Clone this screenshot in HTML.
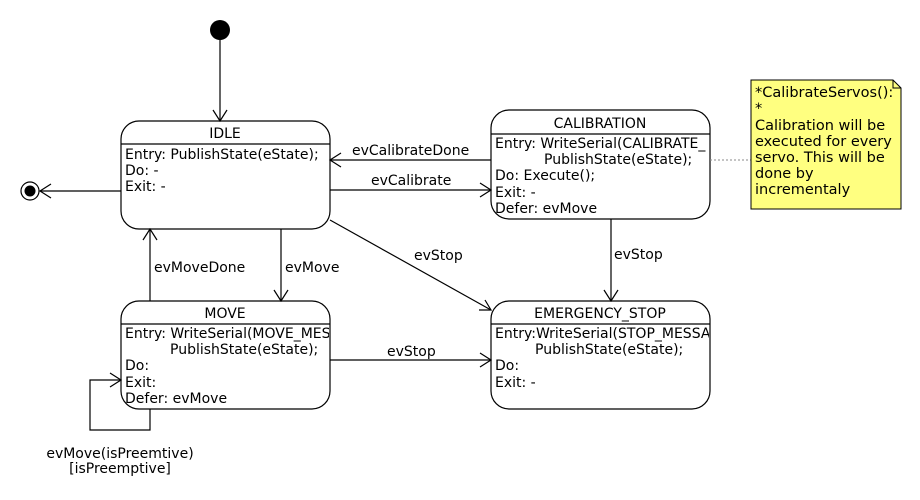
<!DOCTYPE html>
<html><head><meta charset="utf-8"><style>
body{margin:0;background:#fff}
svg{display:block}
text{font-family:"DejaVu Sans","Liberation Sans",sans-serif;font-size:14px;fill:#000}
.n{font-size:14.5px}
</style></head><body>
<svg width="920" height="500" viewBox="0 0 920 500" xmlns="http://www.w3.org/2000/svg">
<defs>
<clipPath id="c1"><rect x="491" y="110" width="218" height="110"/></clipPath>
<clipPath id="c2"><rect x="121" y="300" width="208" height="110"/></clipPath>
<clipPath id="c3"><rect x="491" y="300" width="218" height="110"/></clipPath>
</defs>
<g fill="none" stroke="#000" stroke-width="1.2">
<line x1="220" y1="30" x2="220" y2="121"/>
<polyline points="213,110 220,121 227,110"/>
<line x1="121" y1="191" x2="40" y2="191"/>
<polyline points="51,184 40,191 51,198"/>
<circle cx="30" cy="191" r="9"/>
<rect x="121" y="121" width="209" height="108" rx="18"/>
<line x1="121" y1="144" x2="330" y2="144"/>
<rect x="491" y="110" width="219" height="109" rx="18"/>
<line x1="491" y1="134" x2="710" y2="134"/>
<rect x="121" y="301" width="209" height="108" rx="18"/>
<line x1="121" y1="324" x2="330" y2="324"/>
<rect x="491" y="301" width="219" height="108" rx="18"/>
<line x1="491" y1="324" x2="710" y2="324"/>
<line x1="491" y1="160" x2="330" y2="160"/>
<polyline points="341,153 330,160 341,167"/>
<line x1="330" y1="190" x2="491" y2="190"/>
<polyline points="480,183 491,190 480,197"/>
<line x1="330" y1="220" x2="491" y2="310"/>
<polyline points="479,310 491,310 485,300"/>
<line x1="611" y1="219" x2="611" y2="301"/>
<polyline points="604,290 611,301 618,290"/>
<line x1="281" y1="229" x2="281" y2="301"/>
<polyline points="274,290 281,301 288,290"/>
<line x1="150" y1="301" x2="150" y2="229"/>
<polyline points="143,240 150,229 157,240"/>
<line x1="330" y1="360" x2="491" y2="360"/>
<polyline points="480,353 491,360 480,367"/>
<polyline points="150,409 150,430 90,430 90,380 121,380"/>
<polyline points="110,373 121,380 110,387"/>
<line x1="710" y1="160" x2="751" y2="160" stroke="#888" stroke-width="1" stroke-dasharray="2,2"/>
</g>
<path d="M751,80 H893 L901,88 V209 H751 Z" fill="#ffff80" stroke="#000" stroke-width="1"/>
<path d="M893,80 V88 H901" fill="none" stroke="#000" stroke-width="1"/>
<circle cx="220" cy="30" r="10" fill="#000"/>
<circle cx="30" cy="191" r="5.5" fill="#000"/>

<text x="225" y="138" text-anchor="middle">IDLE</text>
<text x="125" y="159">Entry: PublishState(eState);</text>
<text x="125" y="175">Do: -</text>
<text x="125" y="191">Exit: -</text>

<text x="600" y="128" text-anchor="middle">CALIBRATION</text>
<g clip-path="url(#c1)">
<text x="495" y="148">Entry: WriteSerial(CALIBRATE_</text>
<text x="544" y="164">PublishState(eState);</text>
<text x="495" y="180">Do: Execute();</text>
<text x="495" y="197">Exit: -</text>
<text x="495" y="213">Defer: evMove</text>
</g>

<text x="225" y="318" text-anchor="middle">MOVE</text>
<g clip-path="url(#c2)">
<text x="125" y="338">Entry: WriteSerial(MOVE_MESS</text>
<text x="170" y="354">PublishState(eState);</text>
<text x="125" y="370">Do:</text>
<text x="125" y="387">Exit:</text>
<text x="125" y="403">Defer: evMove</text>
</g>

<text x="600" y="318" text-anchor="middle">EMERGENCY_STOP</text>
<g clip-path="url(#c3)">
<text x="495" y="338">Entry:WriteSerial(STOP_MESSAGE</text>
<text x="535" y="354">PublishState(eState);</text>
<text x="495" y="370">Do:</text>
<text x="495" y="387">Exit: -</text>
</g>

<text x="352" y="155">evCalibrateDone</text>
<text x="371" y="185">evCalibrate</text>
<text x="414" y="260">evStop</text>
<text x="614" y="259">evStop</text>
<text x="285" y="272">evMove</text>
<text x="154" y="272">evMoveDone</text>
<text x="387" y="356">evStop</text>
<text x="120" y="458" text-anchor="middle">evMove(isPreemtive)</text>
<text x="120" y="473" text-anchor="middle">[isPreemptive]</text>

<text class="n" x="755" y="97">*CalibrateServos():</text>
<text class="n" x="755" y="113">*</text>
<text class="n" x="755" y="130">Calibration will be</text>
<text class="n" x="755" y="146">executed for every</text>
<text class="n" x="755" y="162">servo. This will be</text>
<text class="n" x="755" y="178">done by</text>
<text class="n" x="755" y="194">incrementaly</text>
</svg>
</body></html>
